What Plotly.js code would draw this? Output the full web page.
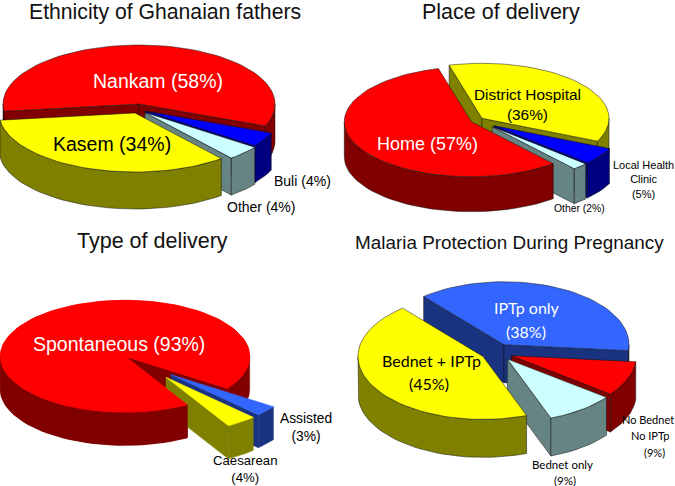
<!DOCTYPE html>
<html>
<head>
<meta charset="utf-8">
<script src="https://cdn.plot.ly/plotly-3.0.1.min.js"></script>
<style>html,body{margin:0;padding:0;background:#fff}#c{width:675px;height:486px}</style>
</head>
<body>
<div id="c"></div>
<script>
// Data
var ethnicityNames = ["Nankam", "Buli", "Other", "Kasem"];
var ethnicityValues = [58, 4, 4, 34];
var placeNames = ["District Hospital", "Local Health Clinic", "Other", "Home"];
var placeValues = [36, 5, 2, 57];
var typeNames = ["Spontaneous", "Assisted", "Caesarean"];
var typeValues = [93, 3, 4];
var malariaNames = ["IPTp only", "No Bednet No IPTp", "Bednet only", "Bednet + IPTp"];
var malariaValues = [38, 9, 9, 45];
var chartTitles = ["Ethnicity of Ghanaian fathers", "Place of delivery", "Type of delivery", "Malaria Protection During Pregnancy"];

var RED = ["#ff0000", "#800000"], YEL = ["#ffff00", "#808000"], BLU = ["#0000ff", "#000080"],
    CYA = ["#ccffff", "#668484"], ROY = ["#3366ff", "#1a3380"];

// Drawing set-up: slice centre offsets, ellipse sizes, start angle (degrees clockwise from top)
var pies = [
  {names: ethnicityNames, values: ethnicityValues, start: 263, rx: 136, ry: 59, depth: 37, outline: true,
   colors: [RED, BLU, CYA, YEL],
   centres: [[139, 104], [145, 111], [145, 112.5], [135, 113]],
   order: [[0], [1], [2], [3]]},
  {names: placeNames, values: placeValues, start: 345, rx: 127, ry: 55, depth: 35, outline: true,
   colors: [YEL, BLU, CYA, RED],
   centres: [[482, 118.3], [494, 125.7], [492.3, 126.7], [471.3, 121.7]],
   order: [[0], [1], [2], [3]]},
  {names: typeNames, values: typeValues, start: 150, rx: 124.7, ry: 56, depth: 33, outline: false,
   colors: [RED, ROY, YEL],
   centres: [[125, 356.3], [171, 374.7], [166, 377.3]],
   order: [[0], [1], [2], [0, "front"]]},
  {names: malariaNames, values: malariaValues, start: 320, rx: 125, ry: 63, depth: 38, outline: true,
   colors: [ROY, RED, CYA, YEL],
   centres: [[504, 344.7], [511.3, 355.7], [507.3, 359], [483, 356.4]],
   order: [[0], [1], [2], [3]]}
];

function pt(c, rx, ry, deg, dz) {
  var a = deg * Math.PI / 180;
  return [c[0] + rx * Math.sin(a), c[1] - ry * Math.cos(a) + (dz || 0)];
}
var traces = [];
function poly(points, fill, lineColor) {
  traces.push({
    type: "scatter", mode: "lines", fill: "toself", fillcolor: fill,
    x: points.map(function (p) { return p[0]; }),
    y: points.map(function (p) { return p[1]; }),
    line: {color: lineColor, width: 0.5},
    hoverinfo: "skip", showlegend: false
  });
}
function arcPoints(c, rx, ry, a0, a1, dz) {
  var out = [], n = Math.max(2, Math.ceil(Math.abs(a1 - a0) / 3));
  for (var i = 0; i <= n; i++) out.push(pt(c, rx, ry, a0 + (a1 - a0) * i / n, dz));
  return out;
}
pies.forEach(function (p) {
  var total = p.values.reduce(function (s, v) { return s + v; }, 0);
  var spans = [], cur = p.start;
  p.values.forEach(function (v) { var e = cur + v / total * 360; spans.push([cur, e]); cur = e; });
  p.order.forEach(function (step) {
    var i = step[0], front = step[1] === "front";
    var a0 = spans[i][0], a1 = spans[i][1], c = p.centres[i], col = p.colors[i];
    var ln = p.outline ? "#111" : null;
    var side = col[1], sideLine = ln || side, topLine = ln || col[0];
    if (!front) {
      [[a0, Math.sin(a0 * Math.PI / 180) < 0], [a1, Math.sin(a1 * Math.PI / 180) > 0]].forEach(function (w) {
        if (!w[1]) return;
        var tip = pt(c, p.rx, p.ry, w[0]), tipD = pt(c, p.rx, p.ry, w[0], p.depth);
        poly([c, tip, tipD, [c[0], c[1] + p.depth], c], side, sideLine);
      });
    }
    // outer wall: the parts of the rim facing the viewer (90..270 deg, modulo a turn)
    for (var k = -1; k <= 1; k++) {
      var lo = Math.max(a0, 90 + 360 * k), hi = Math.min(a1, 270 + 360 * k);
      if (hi <= lo) continue;
      if (front && lo > a0 + 1) continue;
      var upper = arcPoints(c, p.rx, p.ry, lo, hi, 0);
      var lower = arcPoints(c, p.rx, p.ry, hi, lo, p.depth);
      poly(upper.concat(lower, [upper[0]]), side, sideLine);
    }
    var top = [c].concat(arcPoints(c, p.rx, p.ry, a0, a1, 0), [c]);
    poly(top, col[0], topLine);
  });
});

var F = "Liberation Sans, Arial, sans-serif";
var N = "Lato, Liberation Sans, Arial, sans-serif";
function note(text, x, y, size, color, family) {
  return {text: text, x: x, y: y, xref: "x", yref: "y", showarrow: false, xanchor: "center", yanchor: "middle",
          borderpad: 0, align: "center", font: {family: family || F, size: size, color: color || "#000"}};
}
var annotations = [
  note(chartTitles[0], 165, 12, 21.2, "#111"),
  note(chartTitles[1], 501, 12, 21.5, "#111"),
  note(chartTitles[2], 152, 241, 21.5, "#111"),
  note(chartTitles[3], 509, 242, 18.9, "#111"),
  note(ethnicityNames[0] + " (" + ethnicityValues[0] + "%)", 158, 81, 19.5, "#fff"),
  note(ethnicityNames[3] + " (" + ethnicityValues[3] + "%)", 112, 144, 19.5),
  note(ethnicityNames[1] + " (" + ethnicityValues[1] + "%)", 302, 181, 14),
  note(ethnicityNames[2] + " (" + ethnicityValues[2] + "%)", 261, 207, 14),
  note("District Hospital<br>(" + placeValues[0] + "%)", 527, 104, 15.4),
  note("Local Health<br>Clinic<br>(" + placeValues[1] + "%)", 643, 179, 11),
  note(placeNames[2] + " (" + placeValues[2] + "%)", 579, 208, 10.4),
  note(placeNames[3] + " (" + placeValues[3] + "%)", 427, 144, 18, "#fff"),
  note(typeNames[0] + " (" + typeValues[0] + "%)", 119, 344, 19.5, "#fff"),
  note(typeNames[1] + "<br>(" + typeValues[1] + "%)", 306, 427, 13.8),
  note(typeNames[2] + "<br>(" + typeValues[2] + "%)", 245, 469, 13.2),
  note("IPTp only", 527, 307, 16, "#fff", N),
  note("(" + malariaValues[0] + "%)", 526, 331, 16, "#fff", N),
  note("Bednet + IPTp", 431, 360, 16, "#000", N),
  note("(" + malariaValues[3] + "%)", 429, 383, 16, "#000", N),
  note("No Bednet", 648, 419, 11, "#000", N),
  note("No IPTp", 650, 435, 11, "#000", N),
  note("(" + malariaValues[1] + "%)", 654, 452, 11, "#000", N),
  note("Bednet only", 562, 464, 11.5, "#000", N),
  note("(" + malariaValues[2] + "%)", 565, 480, 11.5, "#000", N)
];

Plotly.newPlot("c", traces, {
  width: 675, height: 486,
  margin: {l: 0, r: 0, t: 0, b: 0},
  paper_bgcolor: "#fff", plot_bgcolor: "#fff",
  xaxis: {range: [0, 675], visible: false, fixedrange: true},
  yaxis: {range: [486, 0], visible: false, fixedrange: true},
  showlegend: false,
  annotations: annotations
}, {displayModeBar: false, staticPlot: true});
</script>
</body>
</html>
